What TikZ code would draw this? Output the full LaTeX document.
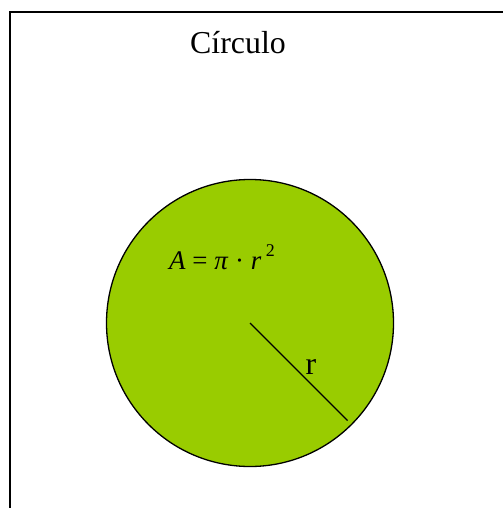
\documentclass[tikz,border=0pt]{standalone}
\usepackage{fontspec}
\setmainfont{Liberation Serif}
\usepackage{xcolor}
\usetikzlibrary{calc}
\definecolor{diskgreen}{HTML}{99CC00}

\begin{document}
\begin{tikzpicture}[x=1bp, y=-1bp,
    disk/.style={circle, draw=black, line width=1.3bp, fill=diskgreen, minimum size=287bp, inner sep=0pt},
    label text/.style={inner sep=0pt, text=black}]
        \useasboundingbox (0,0) rectangle (503,508);
        % Frame (runs off the page on the right and bottom)
        \draw[line width=1.5bp] (10,530) -- (10,12) -- (530,12);
        \node[label text, font=\fontsize{32}{36}\selectfont] (title) at (238,43) {Círculo};

        % Disk with its area formula
        \node[disk] (circ) at (250,323) {};
        \node[label text, font=\fontsize{27}{30}\selectfont] (area) at (222,257) {\textit{A} = \textit{π} · \textit{r}\,\raisebox{0.5em}{\fontsize{18}{20}\selectfont 2}};

        % Radius
        \coordinate (rEnd) at ($(circ.center)+(45:138)$);
        \draw[line width=1.4bp] (circ.center) -- (rEnd);
        \node[label text, font=\fontsize{32}{34}\selectfont] (rad) at (311,367) {r};
    \end{tikzpicture}
\end{document}
